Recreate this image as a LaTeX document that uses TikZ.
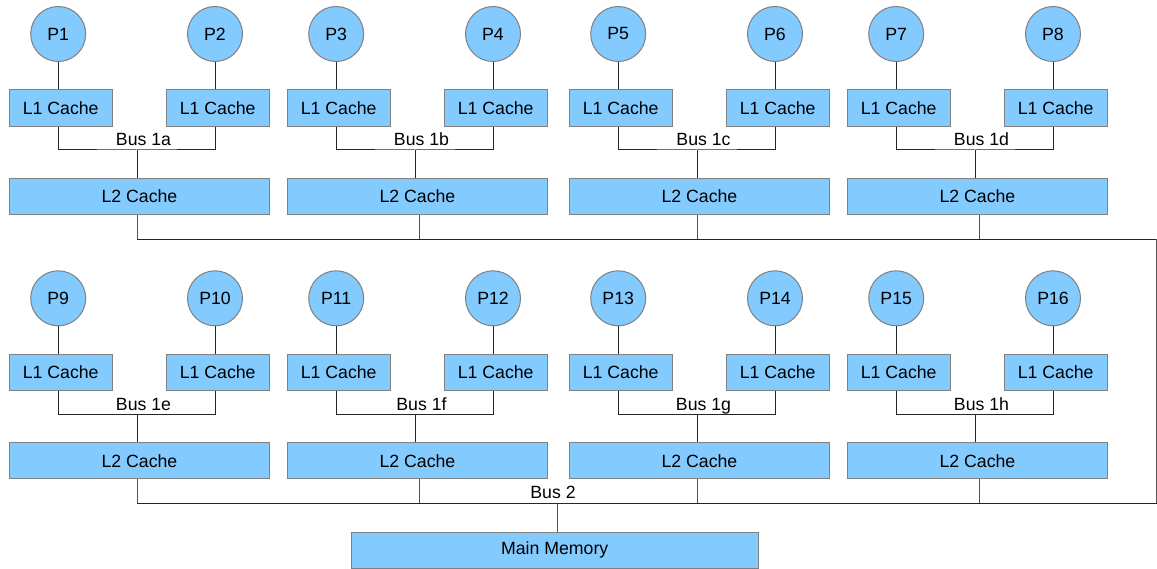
\documentclass[tikz,border=0pt]{standalone}
\usepackage{fontspec}
\setmainfont{Liberation Sans}
\definecolor{cachefill}{HTML}{83CAFF}
\definecolor{edgegrey}{HTML}{808080}
\definecolor{wirecol}{HTML}{262626}
\definecolor{dropcol}{HTML}{555555}
\begin{document}
\begin{tikzpicture}[x=1pt,y=-1pt,
  labelfont/.style={font=\fontsize{17.7}{20}\selectfont},
  box/.style={draw=edgegrey, fill=cachefill, line width=1pt, inner sep=0pt,
              anchor=north west, labelfont},
  lonebox/.style={box, minimum width=103pt, minimum height=36.4pt},
  sharedbox/.style={box, minimum width=260.5pt, minimum height=36pt},
  cpu/.style={circle, draw=edgegrey, fill=cachefill, line width=1pt,
              inner sep=0pt, minimum size=55pt, labelfont},
  wire/.style={draw=wirecol, line width=1pt},
  dropwire/.style={draw=dropcol, line width=1pt},
  buslabel/.style={anchor=base, inner sep=0pt, labelfont}]
\useasboundingbox (0,0) rectangle (1157,569);

% sixteen processors, grouped in pairs sharing an L2 cache
\foreach \gx/\ry/\pa/\pb/\bus/\id/\dx in {
    0/0/1/2/a/1/0, 278/0/3/4/b/2/4, 560/0/5/6/c/3/0, 838/0/7/8/d/4/4,
    0/264.3/9/10/e/5/0, 278/264.3/11/12/f/6/4, 560/264.3/13/14/g/7/0, 838/264.3/15/16/h/8/4} {
  \node[cpu] (p\pa) at (\gx+58.2, \ry+34) {P\pa};
  \node[cpu] (p\pb) at (\gx+215, \ry+34) {P\pb};
  \node[lonebox] (la\id) at (\gx+8.7, \ry+89.3) {L1 Cache};
  \node[lonebox] (lb\id) at (\gx+165.7, \ry+89.3) {L1 Cache};
  \node[sharedbox] (l2\id) at (\gx+8.7, \ry+178) {L2 Cache};
  \coordinate (b\id) at (\gx+137, \ry+150);
  \coordinate (d\id) at (\gx+137+\dx, \ry+239.3);
  \draw[wire] (p\pa) -- (p\pa |- la\id.north);
  \draw[wire] (p\pb) -- (p\pb |- lb\id.north);
  \draw[wire] (p\pa |- la\id.south) |- (b\id) -| (p\pb |- lb\id.south);
  \draw[wire] (b\id) -- (b\id |- l2\id.north);
  \draw[dropwire] (d\id |- l2\id.south) -- (d\id);
  \node[buslabel] at (\gx+143.5, \ry+145.7) {Bus 1\bus};
}

% upper row joins the lower row's bus along the right edge
\coordinate (ne) at (1156.5, 239.3);
\coordinate (se) at (1156.5, 503.6);
\draw[wire] (d1) -- (ne);
\draw[dropwire] (ne) -- (se);
\draw[wire] (d5) -- (d5 -| se) -- (se);

% main memory hangs off bus 2
\node[box, minimum width=407pt, minimum height=35.7pt] (mem) at (350.7, 532) {Main Memory};
\coordinate (m) at (557.7, 503.6);
\draw[dropwire] (m) -- (m |- mem.north);
\node[buslabel] at (553, 498) {Bus 2};
\end{tikzpicture}
\end{document}
